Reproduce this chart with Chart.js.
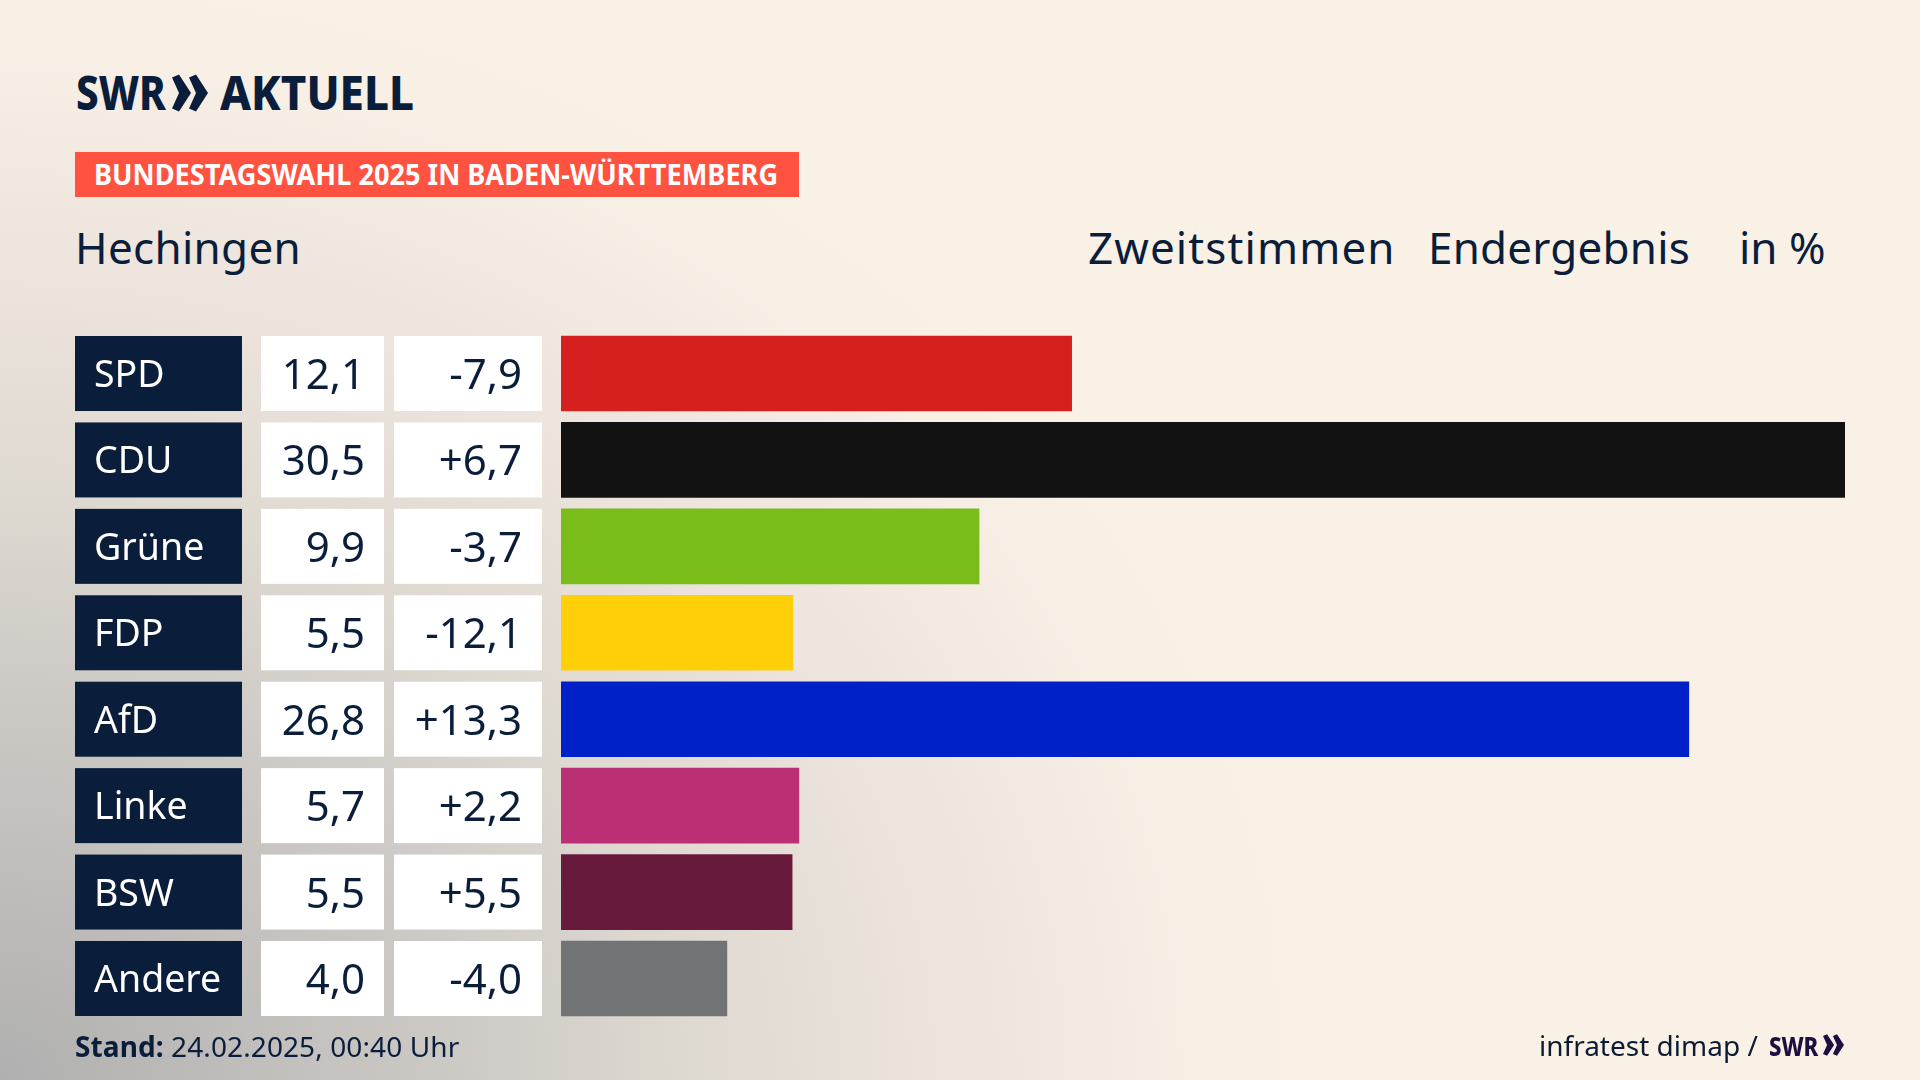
<!DOCTYPE html>
<html lang="de">
<head>
<meta charset="utf-8">
<title>Bundestagswahl 2025 Hechingen</title>
<script src="https://cdn.jsdelivr.net/npm/chart.js@4"></script>
<style>
  html, body { margin: 0; padding: 0; }
  body {
    width: 1920px; height: 1080px; overflow: hidden; position: relative;
    font-family: "Noto Sans", sans-serif; color: #0a1e3c;
    background: radial-gradient(ellipse 1350px 1150px at 0 1080px, #b0b0b0 0%, #d0ccc7 37%, #ddd8d0 50%, #ebe3dc 68%, #f8efe5 90%, #faf1e6 100%);
    background-color: #faf1e6;
  }
  canvas { position: absolute; left: 0; top: 0; }
  .txt { position: absolute; white-space: nowrap; line-height: 1; }
  #banner { position: absolute; left: 75px; top: 152px; width: 724px; height: 45px; background: #ff5240; }
  #logoSwr { left: 76px; top: 68px; font-weight: 800; font-size: 48px; transform: scaleX(0.84); transform-origin: 0 0; }
  #logoAkt { left: 220px; top: 68px; font-weight: 800; font-size: 48px; transform: scaleX(0.915); transform-origin: 0 0; }
  #bannerText { left: 94px; top: 160px; font-size: 28px; font-weight: 700; color: #fff; transform: scaleX(0.97); transform-origin: 0 0; }
  .head { font-size: 44px; top: 225px; }
  .foot { font-size: 28px; top: 1032px; letter-spacing: 0.1px; }
  #credit { font-size: 28px; top: 1031px; left: 1539px; color: #0d1c33; }
  #swrSmall { font-size: 27px; font-weight: 800; top: 1032px; left: 1769px; color: #1d0f42; transform: scaleX(0.82); transform-origin: 0 0; }
  svg { position: absolute; }
</style>
</head>
<body>
<span class="txt" id="logoSwr">SWR</span>
<svg style="left:172px;top:74px" width="36" height="38" viewBox="0 0 36 37" fill="#0a1e3c">
  <path d="M0 3 L7 0 L19 18.5 L7 37 L0 34 L7 18.5 Z M17 3 L24 0 L36 18.5 L24 37 L17 34 L24 18.5 Z"/>
</svg>
<span class="txt" id="logoAkt">AKTUELL</span>
<div id="banner"></div>
<span class="txt" id="bannerText">BUNDESTAGSWAHL 2025 IN BADEN-WÜRTTEMBERG</span>
<span class="txt head" style="left:75px;letter-spacing:0.3px">Hechingen</span>
<span class="txt head" style="left:1088px;letter-spacing:1.1px">Zweitstimmen</span>
<span class="txt head" style="left:1428px;letter-spacing:0.2px">Endergebnis</span>
<span class="txt head" style="left:1739px">in %</span>
<canvas id="myChart" width="1920" height="1080"></canvas>
<span class="txt foot" style="left:75px"><b>Stand:</b> 24.02.2025, 00:40 Uhr</span>
<span class="txt" id="credit">infratest dimap /</span>
<span class="txt" id="swrSmall">SWR</span>
<svg style="left:1823px;top:1034px" width="21" height="22" viewBox="0 0 36 37" fill="#1d0f42">
  <path d="M0 3 L7 0 L19 18.5 L7 37 L0 34 L7 18.5 Z M17 3 L24 0 L36 18.5 L24 37 L17 34 L24 18.5 Z"/>
</svg>
<script>
const parties = ["SPD", "CDU", "Grüne", "FDP", "AfD", "Linke", "BSW", "Andere"];
// bar lengths as measured in the picture, a little finer than the printed labels
const results = [12.13, 30.5, 9.93, 5.51, 26.79, 5.65, 5.49, 3.94];
const resultLabels = ["12,1", "30,5", "9,9", "5,5", "26,8", "5,7", "5,5", "4,0"];
const changeLabels = ["-7,9", "+6,7", "-3,7", "-12,1", "+13,3", "+2,2", "+5,5", "-4,0"];
const barColors = ["#d6201f", "#121212", "#7abd1a", "#ffcf0a", "#0021c8", "#bb3074", "#681a3d", "#727374"];

const navy = "#0a1e3c";

// table left of the bars, follows the rows of the y scale
const tablePlugin = {
  id: "table",
  afterDatasetsDraw(chart) {
    const c = chart.ctx;
    const yScale = chart.scales.y;
    parties.forEach((party, i) => {
      const mid = yScale.getPixelForValue(i);
      const top = mid - 37.5;
      c.save();
      c.fillStyle = navy;
      c.fillRect(75, top, 167, 75);
      c.fillStyle = "#fff";
      c.fillRect(261, top, 123, 75);
      c.fillRect(394, top, 148, 75);
      c.textBaseline = "alphabetic";
      c.font = '37.5px "Noto Sans"';
      c.textAlign = "left";
      c.fillText(party, 94, mid + 13.5);
      c.fillStyle = navy;
      c.font = '42px "Noto Sans"';
      c.textAlign = "right";
      c.fillText(resultLabels[i], 365, mid + 15.5);
      c.fillText(changeLabels[i], 522, mid + 15.5);
      c.restore();
    });
  }
};

const ctx = document.getElementById("myChart").getContext("2d");
new Chart(ctx, {
  type: "bar",
  data: {
    labels: parties,
    datasets: [{
      data: results,
      backgroundColor: barColors,
      borderWidth: 0,
      barThickness: 75
    }]
  },
  options: {
    indexAxis: "y",
    responsive: false,
    animation: false,
    layout: { padding: { left: 561, right: 75, top: 330.3, bottom: 58.3 } },
    scales: {
      x: { display: false, min: 0, max: 30.5 },
      y: { display: false }
    },
    plugins: {
      legend: { display: false },
      tooltip: { enabled: false }
    }
  },
  plugins: [tablePlugin]
});
</script>
</body>
</html>
